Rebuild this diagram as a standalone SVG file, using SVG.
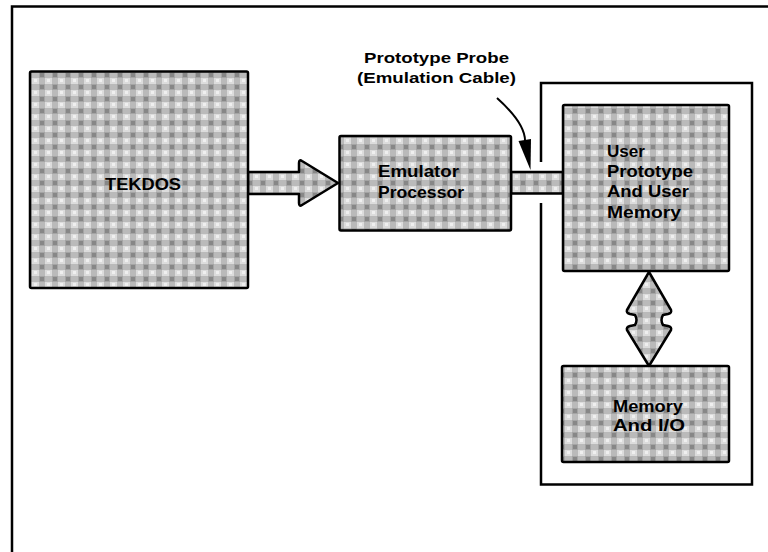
<svg xmlns="http://www.w3.org/2000/svg" width="768" height="552" viewBox="0 0 768 552">
<defs>
<pattern id="ging" width="13" height="12" patternUnits="userSpaceOnUse">
<rect width="13" height="12" fill="#dcdcdc"/>
<rect x="0" y="0" width="6" height="12" fill="#7a7a7a" opacity="0.35"/>
<rect x="0" y="0" width="13" height="6" fill="#7a7a7a" opacity="0.35"/>
<rect x="1" y="1" width="4" height="4" fill="#6a6a6a" opacity="0.5"/>
<rect x="8" y="7" width="3" height="3" fill="#f4f4f4" opacity="0.8"/>
</pattern>
</defs>
<style>
.box{fill:url(#ging);stroke:#000;stroke-width:2.5;stroke-linejoin:round}
.ln{fill:none;stroke:#000;stroke-width:2.5}
.lbl{font-family:"Liberation Sans",Arial,sans-serif;font-weight:bold;font-size:16.5px;fill:#000}
.ann{font-family:"Liberation Sans",Arial,sans-serif;font-weight:bold;font-size:14px;fill:#000}
</style>
<rect width="768" height="552" fill="#fff"/>
<g id="frame">
<path class="ln" d="M12,552 L12,6.5 L768,6.5"/>
</g>
<g id="connectors">
<path id="arrow-tekdos-emulator" class="box" d="M248,172 L299,172 L299,163 Q299,159 302,161 L338,183 L302,205 Q299,207 299,203 L299,194 L248,194 Z"/>
<rect id="cable" class="box" x="511" y="172" width="52" height="21.5"/>
<path id="arrow-user-memory" class="box" d="M649,272 L671,310 Q672,313 668,314 L663,315 Q660,320 663,325 L668,326 Q672,327 671,330 L649,366 L627,330 Q626,327 630,326 L635,325 Q638,320 635,315 L630,314 Q626,313 627,310 Z"/>
<path id="probe-pointer" d="M497,98 Q526,124 525,142" fill="none" stroke="#000" stroke-width="2"/>
<polygon points="518.5,141 531,139 530.5,170" fill="#000"/>
</g>
<g id="enclosure">
<path class="ln" d="M541,162 L541,83 L752,83 L752,484.5 L541,484.5 L541,203"/>
</g>
<g id="tekdos">
<rect class="box" x="30" y="71.5" width="218" height="216.5" rx="1.5"/>
<text class="lbl" x="105" y="190" textLength="76" lengthAdjust="spacingAndGlyphs">TEKDOS</text>
</g>
<g id="emulator">
<rect class="box" x="339.5" y="136" width="171.5" height="94.5" rx="1.5"/>
<text class="lbl" x="378" y="177" textLength="81" lengthAdjust="spacingAndGlyphs">Emulator</text>
<text class="lbl" x="378" y="198" textLength="86" lengthAdjust="spacingAndGlyphs">Processor</text>
</g>
<g id="user-prototype">
<rect class="box" x="563" y="105" width="166" height="166" rx="1.5"/>
<text class="lbl" x="607" y="157" textLength="38" lengthAdjust="spacingAndGlyphs">User</text>
<text class="lbl" x="607" y="177" textLength="86" lengthAdjust="spacingAndGlyphs">Prototype</text>
<text class="lbl" x="607" y="197" textLength="82" lengthAdjust="spacingAndGlyphs">And User</text>
<text class="lbl" x="607" y="218" textLength="74" lengthAdjust="spacingAndGlyphs">Memory</text>
</g>
<g id="memory-io">
<rect class="box" x="562" y="366" width="167" height="96" rx="1.5"/>
<text class="lbl" x="613" y="412" textLength="70" lengthAdjust="spacingAndGlyphs">Memory</text>
<text class="lbl" x="613" y="431" textLength="72" lengthAdjust="spacingAndGlyphs">And I/O</text>
</g>
<g id="probe-label">
<text class="ann" x="364" y="63" textLength="145" lengthAdjust="spacingAndGlyphs">Prototype Probe</text>
<text class="ann" x="357" y="83" textLength="159" lengthAdjust="spacingAndGlyphs">(Emulation Cable)</text>
</g>
</svg>
